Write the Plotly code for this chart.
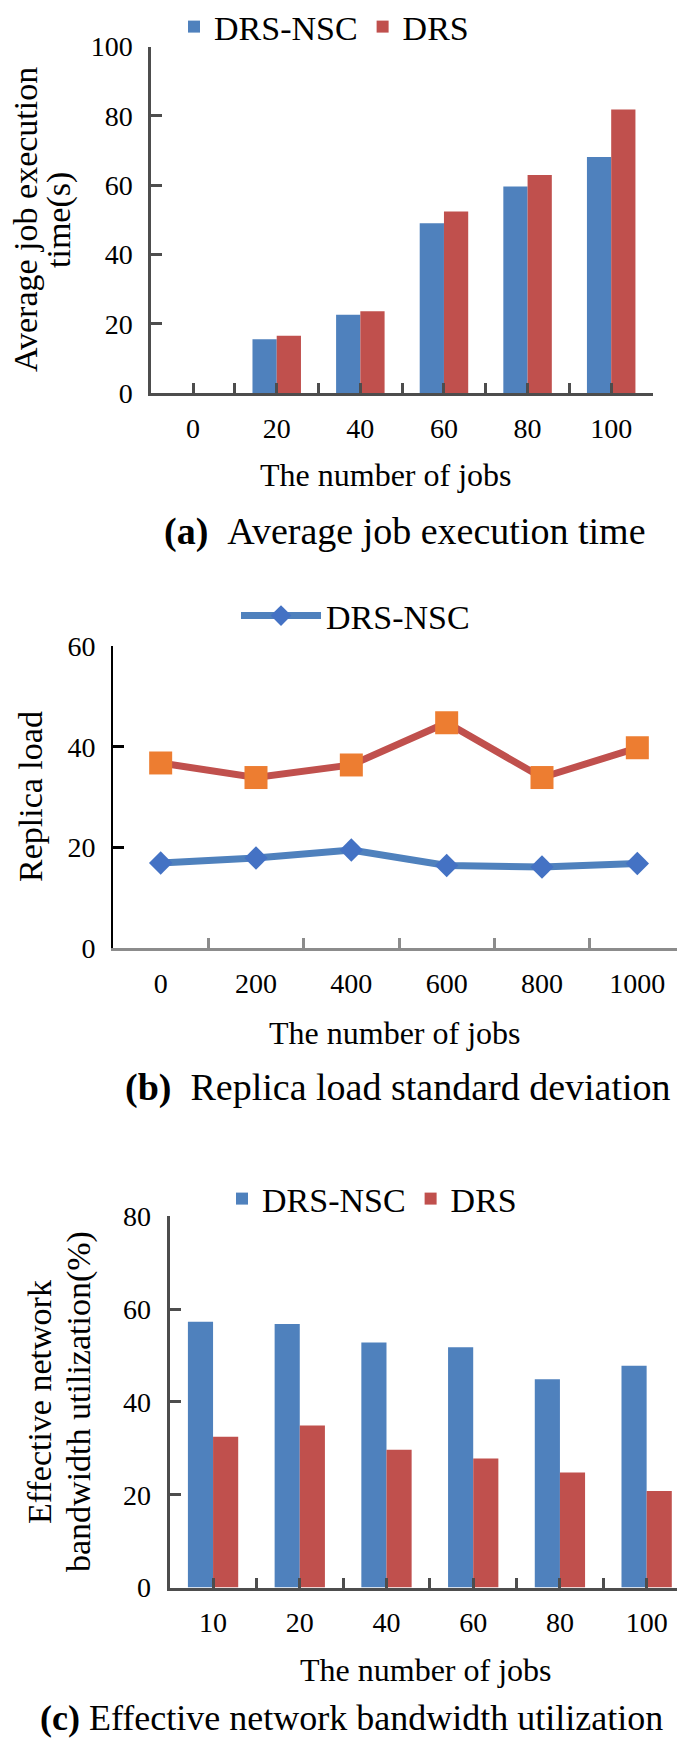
import plotly.graph_objects as go

W, H = 685, 1740
FONT = "Liberation Serif"

# ---------------- data ----------------
series_names = ["DRS-NSC", "DRS"]

jobs_a = ["0", "20", "40", "60", "80", "100"]
exec_nsc = [0, 15.5, 22.6, 49.0, 59.6, 68.1]
exec_drs = [0, 16.5, 23.6, 52.4, 62.9, 81.8]

jobs_b = ["0", "200", "400", "600", "800", "1000"]
load_nsc = [16.9, 17.9, 19.5, 16.4, 16.1, 16.8]
load_drs = [36.8, 33.9, 36.4, 44.8, 33.9, 39.8]

jobs_c = ["10", "20", "40", "60", "80", "100"]
bw_nsc = [57.3, 56.8, 52.8, 51.8, 44.9, 47.8]
bw_drs = [32.5, 34.9, 29.7, 27.8, 24.8, 20.8]

BLUE = "#4f81bd"
RED = "#c0504d"
DIAMOND = "#4472c4"
ORANGE = "#ed7d31"


def px(x):
    return x / W


def py(y):
    return 1 - y / H


fig = go.Figure()

xa = list(range(len(jobs_a)))
xb = list(range(len(jobs_b)))
xc = list(range(len(jobs_c)))

# (a)
fig.add_trace(go.Bar(x=xa, y=exec_nsc, name=series_names[0], marker=dict(color=BLUE, line=dict(width=0)),
                     xaxis="x", yaxis="y", legend="legend"))
fig.add_trace(go.Bar(x=xa, y=exec_drs, name=series_names[1], marker=dict(color=RED, line=dict(width=0)),
                     xaxis="x", yaxis="y", legend="legend"))
# (b)
fig.add_trace(go.Scatter(x=xb, y=load_drs, name=series_names[1], mode="lines+markers",
                         line=dict(color=RED, width=7),
                         marker=dict(symbol="square", size=23, color=ORANGE),
                         xaxis="x2", yaxis="y2", showlegend=False))
fig.add_trace(go.Scatter(x=xb, y=load_nsc, name=series_names[0], mode="lines+markers",
                         line=dict(color=BLUE, width=7),
                         marker=dict(symbol="diamond", size=18, color=DIAMOND),
                         xaxis="x2", yaxis="y2", legend="legend2"))
# (c)
fig.add_trace(go.Bar(x=xc, y=bw_nsc, name=series_names[0], marker=dict(color=BLUE, line=dict(width=0)),
                     xaxis="x3", yaxis="y3", legend="legend3"))
fig.add_trace(go.Bar(x=xc, y=bw_drs, name=series_names[1], marker=dict(color=RED, line=dict(width=0)),
                     xaxis="x3", yaxis="y3", legend="legend3"))


def xaxis_cfg(x0, x1, labels, color, center_ticks):
    n = len(labels)
    cfg = dict(
        domain=[px(x0), px(x1)], range=[-0.5, n - 0.5], showgrid=False, zeroline=False,
        showline=True, linecolor=color, linewidth=3,
        tickmode="array", tickvals=list(range(n)), ticktext=labels,
        ticks="inside" if center_ticks else "", ticklen=10, tickwidth=2.5, tickcolor=color,
        tickfont=dict(family=FONT, size=28, color="black"), ticklabelstandoff=8,
        minor=dict(tickmode="array", tickvals=[i + 0.5 for i in range(n)], ticks="inside",
                   ticklen=10, tickwidth=2.5, tickcolor=color, showgrid=False),
        fixedrange=True, automargin=False,
    )
    return cfg


def yaxis_cfg(y0, y1, top, color):
    return dict(
        domain=[py(y0), py(y1)], range=[0, top], dtick=20, showgrid=False, zeroline=False,
        showline=True, linecolor=color, linewidth=3 if color != "black" else 2,
        ticks="inside", ticklen=11, tickwidth=2.5, tickcolor=color,
        tickfont=dict(family=FONT, size=28, color="black"), ticklabelstandoff=10,
        fixedrange=True, automargin=False,
    )


GRAY_A = "#4d4d4d"
GRAY_B = "#8c8c8c"

fig.update_layout(
    width=W, height=H, margin=dict(l=0, r=0, t=0, b=0, autoexpand=False),
    paper_bgcolor="white", plot_bgcolor="white",
    barmode="group", bargap=0.42, bargroupgap=0,
    font=dict(family=FONT, color="black"),
    xaxis=dict(anchor="y", **xaxis_cfg(143.3, 645, jobs_a, GRAY_A, True)),
    yaxis=dict(anchor="x", **yaxis_cfg(385, 38.5, 100, GRAY_A)),
    xaxis2=dict(anchor="y2", **xaxis_cfg(105, 677, jobs_b, GRAY_B, False)),
    yaxis2=dict(anchor="x2", **yaxis_cfg(940, 638.3, 60, "black")),
    xaxis3=dict(anchor="y3", **xaxis_cfg(161.7, 682, jobs_c, GRAY_A, True)),
    yaxis3=dict(anchor="x3", **yaxis_cfg(1579.5, 1208.3, 80, GRAY_A)),
    legend=dict(orientation="h", x=px(166), y=py(19), xanchor="left", yanchor="middle",
                font=dict(family=FONT, size=34), bgcolor="rgba(0,0,0,0)"),
    legend2=dict(orientation="h", x=px(228), y=py(608), xanchor="left", yanchor="middle",
                 font=dict(family=FONT, size=34), bgcolor="rgba(0,0,0,0)", itemwidth=80),
    legend3=dict(orientation="h", x=px(214), y=py(1191), xanchor="left", yanchor="middle",
                 font=dict(family=FONT, size=34), bgcolor="rgba(0,0,0,0)"),
    showlegend=True,
)

ann = []


def text(x, y, s, size, angle=0, xanchor="center"):
    ann.append(dict(x=px(x), y=py(y), xref="paper", yref="paper", text=s, showarrow=False,
                    textangle=angle, xanchor=xanchor, yanchor="middle",
                    font=dict(family=FONT, size=size, color="black")))


# y titles
text(18, 212, "Average job execution", 34, -90)
text(51, 212, "time(s)", 34, -90)
text(22, 789, "Replica load", 34, -90)
text(31, 1394, "Effective network", 34, -90)
text(71, 1394, "bandwidth utilization(%)", 34, -90)
# x titles
text(378, 467, "The number of jobs", 32)
text(387, 1025, "The number of jobs", 32)
text(418, 1662, "The number of jobs", 32)
# captions
text(397, 523, "<b>(a)</b> \u00a0Average job execution time", 38)
text(389.5, 1079, "<b>(b)</b> \u00a0Replica load standard deviation", 38)
text(343, 1710, "<b>(c)</b> Effective network bandwidth utilization", 36)

fig.update_layout(annotations=ann)

fig.write_html("out.html")
